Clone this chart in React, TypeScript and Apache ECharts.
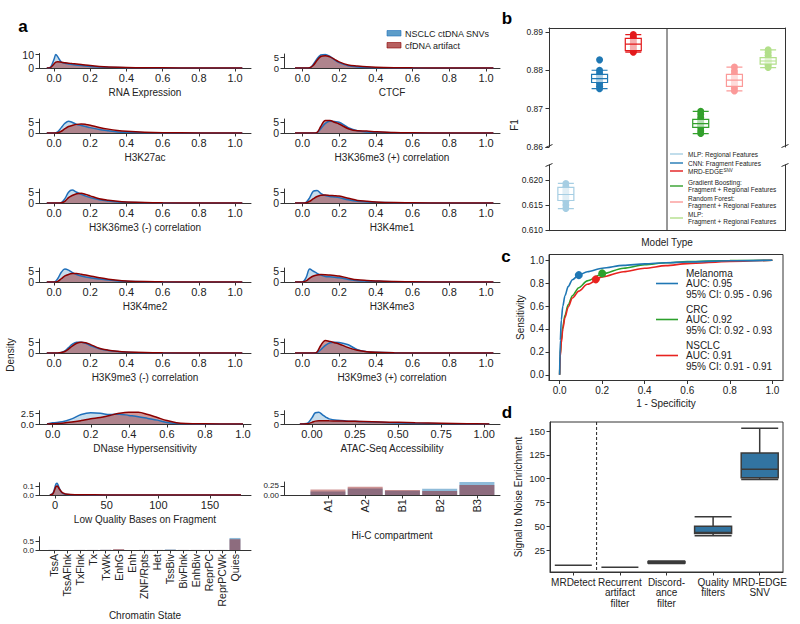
import React, { useEffect, useRef } from "react";
import * as echarts from "echarts";

const FONT = "'Liberation Sans', Arial, sans-serif";
const TXT = "#222";
const AX = "#333";

const BLUE_LINE = "#1f6fba";
const BLUE_FILL = "rgba(31,119,180,0.25)";
const RED_LINE = "#8b0000";
const RED_FILL = "rgba(139,0,0,0.4)";

// ---------------- Panel a data ----------------
const GRID_X = [-0.04, 0, 0.02, 0.04, 0.06, 0.08, 0.1, 0.125, 0.15, 0.175, 0.2, 0.25, 0.3, 0.35, 0.4, 0.5, 0.6, 0.8, 1.04];

const RNA_X = [-0.04, -0.02, 0, 0.01, 0.02, 0.04, 0.06, 0.08, 0.1, 0.15, 0.2, 0.25, 0.3, 0.4, 0.5, 0.6, 0.8, 1.04];
const RNA_BLUE = [0, 0.5, 6.5, 10, 8.5, 4.5, 3.5, 3.0, 2.6, 1.8, 1.2, 0.8, 0.5, 0.2, 0.1, 0.05, 0.02, 0];
const RNA_RED = [0, 0.3, 3.0, 4.3, 4.6, 4.3, 3.9, 3.6, 3.3, 2.6, 1.8, 1.2, 0.8, 0.35, 0.2, 0.1, 0.05, 0];

const CTCF_BLUE = [0, 0, 0, 0.1, 1.8, 4.5, 6.3, 6.6, 5.6, 4.0, 2.6, 1.1, 0.5, 0.25, 0.12, 0.05, 0.02, 0, 0];
const CTCF_RED = [0, 0, 0, 0.1, 1.3, 3.8, 5.6, 6.0, 5.4, 4.2, 3.0, 1.5, 1.0, 0.6, 0.35, 0.15, 0.07, 0.02, 0];

const K27AC_BLUE = [0, 0, 0.5, 2.5, 4.5, 5.5, 5.0, 4.0, 3.5, 3.0, 2.5, 1.6, 1.0, 0.5, 0.3, 0.1, 0.05, 0, 0];
const K27AC_RED = [0, 0, 0.1, 0.8, 2.0, 3.0, 3.5, 4.0, 4.2, 4.0, 3.6, 2.6, 1.8, 1.2, 0.8, 0.35, 0.15, 0.05, 0];

const K36POS_BLUE = [0, 0, 0, 0, 0, 0.2, 2.0, 4.5, 5.5, 5.3, 5.0, 2.5, 1.0, 0.5, 0.3, 0.1, 0.05, 0, 0];
const K36POS_RED = [0, 0, 0, 0, 0, 0.3, 3.0, 5.8, 5.8, 5.0, 4.2, 2.0, 1.0, 0.9, 0.6, 0.2, 0.08, 0.02, 0];

const K36NEG_BLUE = [0, 0, 0, 0.2, 2.0, 5.0, 6.0, 5.0, 4.0, 3.2, 2.5, 1.5, 0.9, 0.5, 0.3, 0.1, 0.05, 0, 0];
const K36NEG_RED = [0, 0, 0, 0.1, 0.8, 2.5, 3.5, 4.3, 4.5, 4.0, 3.3, 2.0, 1.3, 0.8, 0.5, 0.2, 0.08, 0.02, 0];

const K4ME1_BLUE = [0, 0, 0.3, 2.5, 5.5, 5.8, 4.5, 3.5, 3.0, 2.8, 2.5, 1.5, 0.8, 0.5, 0.3, 0.1, 0.05, 0, 0];
const K4ME1_RED = [0, 0, 0.1, 0.8, 2.0, 3.0, 3.6, 3.7, 3.5, 3.4, 3.2, 2.2, 1.2, 0.8, 0.5, 0.2, 0.1, 0.03, 0];

const K4ME2_BLUE = [0, 0, 1.5, 4.5, 6.0, 5.5, 4.5, 3.5, 2.8, 2.3, 2.0, 1.4, 0.9, 0.5, 0.3, 0.1, 0.05, 0, 0];
const K4ME2_RED = [0, 0, 0.3, 1.5, 2.8, 3.5, 3.9, 4.0, 3.6, 3.2, 2.8, 2.0, 1.3, 0.8, 0.5, 0.2, 0.1, 0.03, 0];

const K4ME3_BLUE = [0, 0, 2.0, 6.0, 5.0, 4.0, 3.2, 2.6, 2.4, 2.2, 2.0, 1.2, 0.6, 0.4, 0.3, 0.1, 0.05, 0, 0];
const K4ME3_RED = [0, 0, 0.5, 1.8, 2.8, 3.3, 3.5, 3.4, 3.2, 3.0, 2.8, 1.8, 1.0, 0.7, 0.5, 0.2, 0.1, 0.03, 0];

const K9NEG_BLUE = [0, 0, 0, 0.3, 1.0, 2.5, 4.0, 5.0, 5.0, 4.5, 3.5, 2.0, 1.2, 0.7, 0.4, 0.15, 0.05, 0, 0];
const K9NEG_RED = [0, 0, 0, 0.2, 0.7, 1.8, 3.2, 4.5, 5.0, 4.8, 4.0, 2.2, 1.3, 0.8, 0.5, 0.2, 0.08, 0.02, 0];

const K9POS_BLUE = [0, 0, 0, 0, 0, 0.2, 1.5, 3.5, 4.8, 5.0, 4.9, 3.8, 1.5, 0.6, 0.3, 0.1, 0.04, 0, 0];
const K9POS_RED = [0, 0, 0, 0, 0, 0.5, 3.5, 5.8, 5.4, 4.8, 4.2, 2.5, 1.3, 0.6, 0.3, 0.1, 0.04, 0, 0];

const DNASE_X = [-0.03, 0, 0.05, 0.1, 0.15, 0.2, 0.25, 0.3, 0.35, 0.4, 0.45, 0.5, 0.55, 0.6, 0.65, 0.7, 0.8, 1.0];
const DNASE_BLUE = [0, 0.3, 0.5, 1.2, 2.2, 2.6, 2.5, 2.2, 2.3, 2.0, 1.7, 1.3, 0.9, 0.35, 0.1, 0.03, 0.01, 0];
const DNASE_RED = [0, 0.05, 0.2, 0.45, 0.8, 1.2, 1.5, 2.0, 2.5, 2.75, 2.75, 2.2, 1.5, 0.8, 0.3, 0.1, 0.03, 0];

const ATAC_X = [-0.07, -0.03, 0, 0.02, 0.04, 0.06, 0.08, 0.1, 0.15, 0.2, 0.25, 0.3, 0.4, 0.5, 0.6, 0.75, 0.9, 1.03];
const ATAC_BLUE = [0, 0.2, 3.0, 5.5, 5.7, 4.6, 3.4, 2.5, 1.8, 1.5, 1.3, 1.1, 0.8, 0.5, 0.3, 0.15, 0.05, 0];
const ATAC_RED = [0, 0.1, 0.8, 1.4, 1.6, 1.6, 1.6, 1.55, 1.5, 1.4, 1.3, 1.2, 1.0, 0.8, 0.6, 0.35, 0.15, 0];

const LQ_X = [-5, -2, 0, 1, 2, 3, 4, 6, 8, 10, 15, 25, 50, 100, 180];
const LQ_BLUE = [0, 0.02, 0.09, 0.125, 0.13, 0.11, 0.08, 0.035, 0.015, 0.008, 0.004, 0.002, 0.001, 0, 0];
const LQ_RED = [0, 0.015, 0.07, 0.095, 0.1, 0.09, 0.07, 0.04, 0.02, 0.012, 0.006, 0.003, 0.001, 0, 0];

const CHROM_STATES = ["TssA", "TssAFlnk", "TxFlnk", "Tx", "TxWk", "EnhG", "Enh", "ZNF/Rpts", "Het", "TssBiv", "BivFlnk", "EnhBiv", "ReprPC", "ReprPCWk", "Quies"];
const CHROM_BLUE = [0.005, 0.004, 0.004, 0.004, 0.01, 0.02, 0.005, 0.004, 0.004, 0.03, 0.004, 0.004, 0.004, 0.004, 0.67];
const CHROM_RED = [0.004, 0.004, 0.004, 0.004, 0.01, 0.05, 0.005, 0.004, 0.004, 0.01, 0.004, 0.004, 0.004, 0.004, 0.6];

const HIC_COMP = ["A1", "A2", "B1", "B2", "B3"];
const HIC_BLUE = [0.1, 0.18, 0.12, 0.17, 0.36];
const HIC_RED = [0.15, 0.23, 0.14, 0.11, 0.28];

const X_TICKS = [0, 0.2, 0.4, 0.6, 0.8, 1.0];

// ---------------- Panel b data ----------------
const MODEL_SLOTS = ["MLP: Regional Features", "CNN: Fragment Features", "MRD-EDGE SNV", "gap", "Gradient Boosting", "Random Forest", "MLP: Fragment + Regional"];
const MODEL_COLORS = ["#a6cee3", "#1f78b4", "#e31a1c", "#000", "#33a02c", "#fb9a99", "#b2df8a"];
const F1_MLP_REG = [0.6143, 0.615, 0.6157, 0.6162, 0.6167, 0.6171, 0.6176, 0.6181, 0.6187, 0.6193];
const F1_CNN = [0.8752, 0.8758, 0.8765, 0.877, 0.8776, 0.878, 0.8786, 0.8793, 0.88, 0.8827];
const F1_EDGE = [0.8847, 0.8851, 0.8856, 0.8862, 0.8867, 0.887, 0.8876, 0.8882, 0.8887, 0.8893];
const F1_GB = [0.8635, 0.8642, 0.865, 0.8655, 0.866, 0.8664, 0.867, 0.8677, 0.8685, 0.8693];
const F1_RF = [0.8746, 0.8753, 0.876, 0.8766, 0.8772, 0.8777, 0.8783, 0.879, 0.8798, 0.8808];
const F1_MLP_FR = [0.8807, 0.8812, 0.8817, 0.8821, 0.8824, 0.8828, 0.8833, 0.8839, 0.8846, 0.8853];
const BOX_MLP_REG = [0.6143, 0.6159, 0.6171, 0.6185, 0.6193];
const BOX_CNN = [0.8752, 0.8768, 0.8778, 0.8789, 0.88];
const BOX_EDGE = [0.8847, 0.8851, 0.8868, 0.8883, 0.8893];
const BOX_GB = [0.8635, 0.8651, 0.8661, 0.8672, 0.8693];
const BOX_RF = [0.8746, 0.8758, 0.8774, 0.8789, 0.8808];
const BOX_MLP_FR = [0.8807, 0.8816, 0.8824, 0.8833, 0.8853];
const F1_UPPER_TICKS = [0.86, 0.87, 0.88, 0.89];
const F1_LOWER_TICKS = [0.61, 0.615, 0.62];

// ---------------- Panel c data ----------------
const ROC_FPR = [0, 0.003, 0.008, 0.015, 0.025, 0.04, 0.06, 0.09, 0.13, 0.2, 0.3, 0.4, 0.5, 0.6, 0.8, 1.0];
const MEL_TPR = [0, 0.3, 0.48, 0.6, 0.69, 0.77, 0.83, 0.87, 0.9, 0.93, 0.955, 0.968, 0.978, 0.985, 0.995, 1.0];
const CRC_TPR = [0, 0.18, 0.3, 0.42, 0.52, 0.61, 0.69, 0.76, 0.82, 0.88, 0.93, 0.96, 0.978, 0.988, 0.997, 1.0];
const NSCLC_TPR = [0, 0.16, 0.28, 0.4, 0.5, 0.59, 0.67, 0.73, 0.79, 0.855, 0.9, 0.93, 0.953, 0.97, 0.99, 1.0];
const MEL_PT = [0.09, 0.87];
const CRC_PT = [0.2, 0.885];
const NSCLC_PT = [0.17, 0.833];
const ROC_TICKS = [0, 0.2, 0.4, 0.6, 0.8, 1.0];

// ---------------- Panel d data ----------------
const D_CATS = ["MRDetect", "Recurrent\nartifact\nfilter", "Discord-\nance\nfilter", "Quality\nfilters", "MRD-EDGE\nSNV"];
const D_BOX = [
  [9, 9, 9, 9, 9],
  [7, 7, 7, 7, 7],
  [11, 11.5, 12, 13, 13.5],
  [40, 42.5, 43.5, 50, 60],
  [99, 101, 110, 127, 153],
];
const D_TICKS = [25, 50, 75, 100, 125, 150];

function buildOption() {
  const grid: any[] = [];
  const xAxis: any[] = [];
  const yAxis: any[] = [];
  const series: any[] = [];
  const graphic: any[] = [];

  const addGrid = (left: number, top: number, width: number, height: number, extra: any = {}) => {
    grid.push({ left, top, width, height, containLabel: false, outerBoundsMode: "none", ...extra });
    return grid.length - 1;
  };
  const pushX = (a: any) => { xAxis.push(a); return xAxis.length - 1; };
  const pushY = (a: any) => { yAxis.push(a); return yAxis.length - 1; };

  const L = { left: 39, width: 212, xmin: -0.083, xmax: 1.088 };
  const R = { left: 284, width: 216, xmin: -0.1, xmax: 1.076 };

  const specs: any[] = [
    { title: "RNA Expression", xs: RNA_X, blue: RNA_BLUE, red: RNA_RED, col: L, bottom: 68, h: 14.5, ymax: 10.8, yticks: [0, 10], ydec: 0 },
    { title: "CTCF", xs: GRID_X, blue: CTCF_BLUE, red: CTCF_RED, col: R, bottom: 68, h: 14, ymax: 6.8, yticks: [0, 5], ydec: 0, yfont: 9.5 },
    { title: "H3K27ac", xs: GRID_X, blue: K27AC_BLUE, red: K27AC_RED, col: L, bottom: 133, h: 14, ymax: 6.5, yticks: [0, 5], ydec: 0 },
    { title: "H3K36me3 (+) correlation", xs: GRID_X, blue: K36POS_BLUE, red: K36POS_RED, col: R, bottom: 133, h: 14, ymax: 6.5, yticks: [0, 5], ydec: 0 },
    { title: "H3K36me3 (-) correlation", xs: GRID_X, blue: K36NEG_BLUE, red: K36NEG_RED, col: L, bottom: 203, h: 14, ymax: 6.5, yticks: [0, 5], ydec: 0 },
    { title: "H3K4me1", xs: GRID_X, blue: K4ME1_BLUE, red: K4ME1_RED, col: R, bottom: 203, h: 14, ymax: 6.5, yticks: [0, 5], ydec: 0 },
    { title: "H3K4me2", xs: GRID_X, blue: K4ME2_BLUE, red: K4ME2_RED, col: L, bottom: 282, h: 14, ymax: 6.5, yticks: [0, 5], ydec: 0 },
    { title: "H3K4me3", xs: GRID_X, blue: K4ME3_BLUE, red: K4ME3_RED, col: R, bottom: 282, h: 14, ymax: 6.5, yticks: [0, 5], ydec: 0 },
    { title: "H3K9me3 (-) correlation", xs: GRID_X, blue: K9NEG_BLUE, red: K9NEG_RED, col: L, bottom: 353, h: 14, ymax: 6.5, yticks: [0, 5], ydec: 0 },
    { title: "H3K9me3 (+) correlation", xs: GRID_X, blue: K9POS_BLUE, red: K9POS_RED, col: R, bottom: 353, h: 14, ymax: 6.5, yticks: [0, 5], ydec: 0 },
    { title: "DNase Hypersensitivity", xs: DNASE_X, blue: DNASE_BLUE, red: DNASE_RED, col: { left: 39, width: 212, xmin: -0.072, xmax: 1.042 }, bottom: 424, h: 13.3, ymax: 3.1, yticks: [0, 2.5], ydec: 1, yfont: 9.5 },
    { title: "ATAC-Seq Accessibility", xs: ATAC_X, blue: ATAC_BLUE, red: ATAC_RED, col: { left: 284, width: 216, xmin: -0.162, xmax: 1.092 }, bottom: 424, h: 13.3, ymax: 6.5, yticks: [0, 5], ydec: 0, xticks: [0, 0.25, 0.5, 0.75, 1.0], xdec: 2, yfont: 9.5 },
    { title: "Low Quality Bases on Fragment", xs: LQ_X, blue: LQ_BLUE, red: LQ_RED, col: { left: 39, width: 212, xmin: -15.5, xmax: 189.7 }, bottom: 495, h: 12.3, ymax: 0.137, yticks: [0, 0.1], ydec: 1, xticks: [0, 50, 100, 150], xdec: 0, yfont: 8 },
  ];

  // two overlaid left y axes per small plot, each carrying a single tick label,
  // so that ECharts' min/max label overlap rule does not hide one of them
  const smallY = (gi: number, ymax: number, ticks: number[], dec: number, font: number) => {
    const mk = (tick: number, withLine: boolean) => ({
      gridIndex: gi, type: "value", min: 0, max: ymax, position: "left", offset: 0,
      axisLine: { show: withLine, onZero: false, lineStyle: { color: AX, width: 1 } },
      axisTick: { show: true, length: 3.5, customValues: [tick], lineStyle: { color: AX } },
      axisLabel: { show: true, customValues: [tick], formatter: (v: number) => v.toFixed(dec), fontSize: font, lineHeight: font, margin: 5, color: TXT, fontFamily: FONT },
      splitLine: { show: false },
    });
    const yi = pushY(mk(ticks[0], true));
    pushY(mk(ticks[1], false));
    return yi;
  };

  specs.forEach((p) => {
    const gi = addGrid(p.col.left, p.bottom - p.h, p.col.width, p.h);
    const xt = p.xticks || X_TICKS;
    const xd = p.xdec === undefined ? 1 : p.xdec;
    const xi = pushX({
      gridIndex: gi, type: "value", min: p.col.xmin, max: p.col.xmax,
      name: p.title, nameLocation: "middle", nameGap: 19,
      nameTextStyle: { fontSize: 10, color: TXT, fontFamily: FONT },
      axisLine: { show: true, onZero: false, lineStyle: { color: AX, width: 1 } },
      axisTick: { show: true, length: 3.5, customValues: xt, lineStyle: { color: AX } },
      axisLabel: { show: true, customValues: xt, showMinLabel: true, showMaxLabel: true, formatter: (v: number) => v.toFixed(xd), fontSize: 11, margin: 4, color: TXT, fontFamily: FONT },
      splitLine: { show: false },
    });
    const yi = smallY(gi, p.ymax, p.yticks, p.ydec, p.yfont || 10.5);
    const mk = (ys: number[], line: string, fill: string) => ({
      type: "line", xAxisIndex: xi, yAxisIndex: yi,
      data: p.xs.map((x: number, i: number) => [x, ys[i]]),
      smooth: 0.35, symbol: "none", showSymbol: false, silent: true,
      lineStyle: { color: line, width: 1.5 },
      areaStyle: { color: fill, opacity: 1 },
    });
    series.push(mk(p.blue, BLUE_LINE, BLUE_FILL));
    series.push(mk(p.red, RED_LINE, RED_FILL));
  });

  // Hi-C compartment bars
  {
    const gi = addGrid(284, 482, 216, 13);
    const ticks = [0, 1, 2, 3, 4];
    const xi = pushX({
      gridIndex: gi, type: "value", min: -1.18, max: 4.62,
      name: "Hi-C compartment", nameLocation: "middle", nameGap: 35,
      nameTextStyle: { fontSize: 10, color: TXT, fontFamily: FONT },
      axisLine: { show: true, onZero: false, lineStyle: { color: AX } },
      axisTick: { show: true, length: 3.5, customValues: ticks, lineStyle: { color: AX } },
      axisLabel: { show: true, customValues: ticks, showMinLabel: true, showMaxLabel: true, rotate: 90, formatter: (v: number) => HIC_COMP[Math.round(v)], fontSize: 11, margin: 4, color: TXT, fontFamily: FONT },
      splitLine: { show: false },
    });
    const yi = smallY(gi, 0.36, [0, 0.25], 2, 8);
    series.push({ type: "bar", xAxisIndex: xi, yAxisIndex: yi, data: HIC_BLUE.map((v, i) => [i, v]), barWidth: 35, barGap: "-100%", silent: true, itemStyle: { color: "rgba(31,119,180,0.5)" } });
    series.push({ type: "bar", xAxisIndex: xi, yAxisIndex: yi, data: HIC_RED.map((v, i) => [i, v]), barWidth: 35, barGap: "-100%", silent: true, itemStyle: { color: "rgba(139,0,0,0.42)" } });
  }

  // Chromatin state bars
  {
    const gi = addGrid(39, 536.7, 212, 13.3);
    const ticks = CHROM_STATES.map((_, i) => i);
    const xi = pushX({
      gridIndex: gi, type: "value", min: -1.16, max: 15.24,
      name: "Chromatin State", nameLocation: "middle", nameGap: 55,
      nameTextStyle: { fontSize: 10, color: TXT, fontFamily: FONT },
      axisLine: { show: true, onZero: false, lineStyle: { color: AX } },
      axisTick: { show: true, length: 3.5, customValues: ticks, lineStyle: { color: AX } },
      axisLabel: { show: true, customValues: ticks, showMinLabel: true, showMaxLabel: true, rotate: 90, formatter: (v: number) => CHROM_STATES[Math.round(v)], fontSize: 10.5, margin: 4, color: TXT, fontFamily: FONT },
      splitLine: { show: false },
    });
    const yi = smallY(gi, 0.74, [0, 0.5], 1, 8);
    series.push({ type: "bar", xAxisIndex: xi, yAxisIndex: yi, data: CHROM_BLUE.map((v, i) => [i, v]), barWidth: 11, barGap: "-100%", silent: true, itemStyle: { color: "rgba(31,119,180,0.5)" } });
    series.push({ type: "bar", xAxisIndex: xi, yAxisIndex: yi, data: CHROM_RED.map((v, i) => [i, v]), barWidth: 11, barGap: "-100%", silent: true, itemStyle: { color: "rgba(139,0,0,0.42)" } });
  }

  // ---------------- Panel b ----------------
  const bLeft = 549, bWidth = 236;
  const bUpper = addGrid(bLeft, 28, bWidth, 119);
  const bLower = addGrid(bLeft, 165, bWidth, 65.7);
  const catAxis = (gi: number, pos: string) => ({
    gridIndex: gi, type: "category", data: MODEL_SLOTS, position: pos, boundaryGap: true,
    axisLine: { show: true, onZero: false, lineStyle: { color: AX } },
    axisTick: { show: false }, axisLabel: { show: false }, splitLine: { show: false },
  });
  const bUx = pushX(catAxis(bUpper, "top"));
  const bLx = pushX(catAxis(bLower, "bottom"));
  const f1Axis = (gi: number, min: number, max: number, ticks: number[], dec: number) => ({
    gridIndex: gi, type: "value", min, max, position: "left",
    axisLine: { show: true, onZero: false, lineStyle: { color: AX } },
    axisTick: { show: true, length: 3.5, customValues: ticks, lineStyle: { color: AX } },
    axisLabel: { show: true, customValues: ticks, showMinLabel: true, showMaxLabel: true, formatter: (v: number) => v.toFixed(dec), fontSize: 8.5, margin: 6, color: TXT, fontFamily: FONT },
    splitLine: { show: false },
  });
  const rightBorder = (gi: number, min: number, max: number) => ({
    gridIndex: gi, type: "value", position: "right", min, max,
    axisLine: { show: true, onZero: false, lineStyle: { color: AX } },
    axisTick: { show: false }, axisLabel: { show: false }, splitLine: { show: false },
  });
  const bUy = pushY(f1Axis(bUpper, 0.86, 0.891, F1_UPPER_TICKS, 2));
  pushY(rightBorder(bUpper, 0.86, 0.891));
  const bLy = pushY(f1Axis(bLower, 0.6099, 0.62296, F1_LOWER_TICKS, 3));
  pushY(rightBorder(bLower, 0.6099, 0.62296));

  const f1Sets: any[] = [
    { k: 0, vals: F1_MLP_REG, box: BOX_MLP_REG, lower: true },
    { k: 1, vals: F1_CNN, box: BOX_CNN },
    { k: 2, vals: F1_EDGE, box: BOX_EDGE },
    { k: 4, vals: F1_GB, box: BOX_GB },
    { k: 5, vals: F1_RF, box: BOX_RF },
    { k: 6, vals: F1_MLP_FR, box: BOX_MLP_FR },
  ];
  f1Sets.forEach((s) => {
    series.push({
      type: "scatter", xAxisIndex: s.lower ? bLx : bUx, yAxisIndex: s.lower ? bLy : bUy,
      data: s.vals.map((v: number) => [s.k, v]), symbolSize: 7, silent: true, z: 2,
      itemStyle: { color: MODEL_COLORS[s.k], opacity: 1 },
    });
  });
  const boxData = (lower: boolean) => MODEL_SLOTS.map((_, k) => {
    const s = f1Sets.find((q) => q.k === k && !!q.lower === lower);
    if (!s) return { value: ["-", "-", "-", "-", "-"] };
    return { value: s.box, itemStyle: { color: "rgba(255,255,255,0.65)", borderColor: MODEL_COLORS[k], borderWidth: 1.2 } };
  });
  series.push({ type: "boxplot", xAxisIndex: bUx, yAxisIndex: bUy, boxWidth: [16, 16], data: boxData(false), silent: true, z: 3 });
  series.push({ type: "boxplot", xAxisIndex: bLx, yAxisIndex: bLy, boxWidth: [16, 16], data: boxData(true), silent: true, z: 3 });

  // ---------------- Panel c ----------------
  const cg = addGrid(549, 254.5, 234, 126, { show: true, borderColor: AX, borderWidth: 1, backgroundColor: "transparent" });
  const cx = pushX({
    gridIndex: cg, type: "value", min: -0.05, max: 1.05,
    name: "1 - Specificity", nameLocation: "middle", nameGap: 18,
    nameTextStyle: { fontSize: 10, color: TXT, fontFamily: FONT },
    axisLine: { show: true, onZero: false, lineStyle: { color: AX } },
    axisTick: { show: true, length: 3.5, customValues: ROC_TICKS, lineStyle: { color: AX } },
    axisLabel: { show: true, customValues: ROC_TICKS, showMinLabel: true, showMaxLabel: true, formatter: (v: number) => v.toFixed(1), fontSize: 10, margin: 5, color: TXT, fontFamily: FONT },
    splitLine: { show: false },
  });
  const cy = pushY({
    gridIndex: cg, type: "value", min: -0.05, max: 1.05,
    name: "Sensitivity", nameLocation: "middle", nameGap: 24, nameRotate: 90,
    nameTextStyle: { fontSize: 10, color: TXT, fontFamily: FONT },
    axisLine: { show: true, onZero: false, lineStyle: { color: AX } },
    axisTick: { show: true, length: 3.5, customValues: ROC_TICKS, lineStyle: { color: AX } },
    axisLabel: { show: true, customValues: ROC_TICKS, showMinLabel: true, showMaxLabel: true, formatter: (v: number) => v.toFixed(1), fontSize: 10, margin: 5, color: TXT, fontFamily: FONT },
    splitLine: { show: false },
  });
  const rocs = [
    { tpr: CRC_TPR, pt: CRC_PT, color: "#2ca02c" },
    { tpr: NSCLC_TPR, pt: NSCLC_PT, color: "#e8231f" },
    { tpr: MEL_TPR, pt: MEL_PT, color: "#1f77b4" },
  ];
  rocs.forEach((r) => {
    series.push({
      type: "line", xAxisIndex: cx, yAxisIndex: cy, data: ROC_FPR.map((f, i) => [f, r.tpr[i]]),
      smooth: 0.3, smoothMonotone: "x", symbol: "none", showSymbol: false, silent: true,
      lineStyle: { color: r.color, width: 1.6 },
    });
    series.push({
      type: "scatter", xAxisIndex: cx, yAxisIndex: cy, data: [r.pt], symbolSize: 8, silent: true, z: 4,
      itemStyle: { color: r.color, opacity: 1 },
    });
  });

  // ---------------- Panel d ----------------
  const dg = addGrid(550, 422, 233, 150, { show: true, borderColor: AX, borderWidth: 1, backgroundColor: "transparent" });
  const dx = pushX({
    gridIndex: dg, type: "category", data: D_CATS, boundaryGap: true,
    axisLine: { show: true, onZero: false, lineStyle: { color: AX } },
    axisTick: { show: true, alignWithLabel: true, length: 3.5, lineStyle: { color: AX } },
    axisLabel: { show: true, interval: 0, fontSize: 10, lineHeight: 10.5, margin: 5, color: TXT, fontFamily: FONT },
    splitLine: { show: false },
  });
  const dy = pushY({
    gridIndex: dg, type: "value", min: 2, max: 159.5,
    name: "Signal to Noise Enrichment", nameLocation: "middle", nameGap: 27, nameRotate: 90,
    nameTextStyle: { fontSize: 10, color: TXT, fontFamily: FONT },
    axisLine: { show: true, onZero: false, lineStyle: { color: AX } },
    axisTick: { show: true, length: 3.5, customValues: D_TICKS, lineStyle: { color: AX } },
    axisLabel: { show: true, customValues: D_TICKS, showMinLabel: true, showMaxLabel: true, fontSize: 9.5, margin: 5, color: TXT, fontFamily: FONT },
    splitLine: { show: false },
  });
  series.push({
    type: "boxplot", xAxisIndex: dx, yAxisIndex: dy, boxWidth: [37, 37], data: D_BOX, silent: true,
    itemStyle: { color: "#3274a1", borderColor: "#3a3a3a", borderWidth: 1.5 },
  });

  // ---------------- static graphics ----------------
  const txt = (x: number, y: number, text: string, size: number, extra: any = {}, styleExtra: any = {}) => ({
    type: "text", x, y, silent: true, ...extra,
    style: { text, fontSize: size, fontFamily: FONT, fill: TXT, align: "left", verticalAlign: "middle", textAlign: "left", textVerticalAlign: "middle", ...styleExtra },
  });
  const ln = (x1: number, y1: number, x2: number, y2: number, color: string, width = 1, dash: any = null) => ({
    type: "line", silent: true, shape: { x1, y1, x2, y2 },
    style: { stroke: color, lineWidth: width, lineDash: dash },
  });
  const panelLabel = (x: number, y: number, t: string) => txt(x, y, t, 17, {}, { fontWeight: "bold", fill: "#000", align: "center", textAlign: "center" });
  graphic.push(panelLabel(23, 26, "a"), panelLabel(507, 18, "b"), panelLabel(506, 256, "c"), panelLabel(507, 412, "d"));

  // legend panel a
  graphic.push({ type: "rect", silent: true, shape: { x: 387, y: 30.5, width: 14, height: 5.5 }, style: { fill: "rgba(31,119,180,0.72)", stroke: "#1f6fba", lineWidth: 0.6 } });
  graphic.push({ type: "rect", silent: true, shape: { x: 387, y: 42.5, width: 14, height: 5.5 }, style: { fill: "rgba(139,0,0,0.62)", stroke: "#8b0000", lineWidth: 0.6 } });
  graphic.push(txt(405, 33.5, "NSCLC ctDNA SNVs", 9), txt(405, 45.5, "cfDNA artifact", 9));

  // Density label
  graphic.push(txt(10, 355, "Density", 10, { rotation: Math.PI / 2 }, { align: "center", textAlign: "center" }));

  // panel b axis texts
  graphic.push(txt(514, 125, "F1", 10, { rotation: Math.PI / 2 }, { align: "center", textAlign: "center" }));
  graphic.push(txt(667, 242, "Model Type", 10, {}, { align: "center", textAlign: "center" }));
  // axis break marks
  [[bLeft, 146], [bLeft + bWidth, 146], [bLeft, 165], [bLeft + bWidth, 165]].forEach(([x, y]) => {
    graphic.push(ln(x - 3.5, y + 1.5, x + 3.5, y - 1.5, AX, 1));
  });
  // legend panel b
  const bLeg = [
    { c: MODEL_COLORS[0], y: 154, t: "MLP: Regional Features" },
    { c: MODEL_COLORS[1], y: 163, t: "CNN: Fragment Features" },
    { c: MODEL_COLORS[2], y: 171, t: "{n|MRD-EDGE}{s|SNV}", rich: true },
    { c: MODEL_COLORS[4], y: 186, t: "Gradient Boosting:\nFragment + Regional Features" },
    { c: MODEL_COLORS[5], y: 202, t: "Random Forest:\nFragment + Regional Features" },
    { c: MODEL_COLORS[6], y: 218, t: "MLP:\nFragment + Regional Features" },
  ];
  bLeg.forEach((it) => {
    graphic.push(ln(670, it.y, 683, it.y, it.c, 1.4));
    const extra: any = { lineHeight: 7 };
    if (it.rich) {
      extra.rich = {
        n: { fontSize: 6.5, fontFamily: FONT, fill: TXT, fontWeight: "normal" },
        s: { fontSize: 4.5, fontFamily: FONT, fill: TXT, verticalAlign: "top", padding: [0, 0, 3, 0] },
      };
    }
    graphic.push(txt(688, it.y, it.t, 6.5, {}, extra));
  });

  // legend panel c
  const cLeg = [
    { c: "#1f77b4", y: 283.5, t: "Melanoma\nAUC: 0.95\n95% CI: 0.95 - 0.96" },
    { c: "#2ca02c", y: 319.5, t: "CRC\nAUC: 0.92\n95% CI: 0.92 - 0.93" },
    { c: "#e8231f", y: 355.5, t: "NSCLC\nAUC: 0.91\n95% CI: 0.91 - 0.91" },
  ];
  cLeg.forEach((it) => {
    graphic.push(ln(656, it.y, 678, it.y, it.c, 1.6));
    graphic.push(txt(686, it.y, it.t, 10, {}, { lineHeight: 10.5 }));
  });

  const option: any = {
    animation: false,
    backgroundColor: "#fff",
    textStyle: { fontFamily: FONT },
    grid, xAxis, yAxis, series, graphic,
  };
  return { option, bUx, bUpperTop: 28, bLowerBottom: 230.7, dx, dTop: 422, dBottom: 572 };
}

export default function App() {
  const ref = useRef<HTMLDivElement>(null);
  useEffect(() => {
    if (!ref.current) return;
    const chart = echarts.init(ref.current, null, { renderer: "svg" });
    const built = buildOption();
    chart.setOption(built.option);
    try {
      const xb = chart.convertToPixel({ xAxisIndex: built.bUx } as any, 3 as any) as any;
      const d0 = chart.convertToPixel({ xAxisIndex: built.dx } as any, 0 as any) as any;
      const d1 = chart.convertToPixel({ xAxisIndex: built.dx } as any, 1 as any) as any;
      const xd = (Number(d0) + Number(d1)) / 2;
      const extra = [
        { type: "line", silent: true, shape: { x1: xb, y1: built.bUpperTop, x2: xb, y2: built.bLowerBottom }, style: { stroke: AX, lineWidth: 1 } },
        { type: "line", silent: true, shape: { x1: xd, y1: built.dTop, x2: xd, y2: built.dBottom }, style: { stroke: "#222", lineWidth: 1, lineDash: [3, 2] } },
      ];
      chart.setOption({ graphic: [...built.option.graphic, ...extra] });
    } catch (e) {
      // ignore
    }
    return () => chart.dispose();
  }, []);
  return <div ref={ref} style={{ position: "absolute", left: 0, top: 0, width: 800, height: 624, background: "#fff" }} />;
}
